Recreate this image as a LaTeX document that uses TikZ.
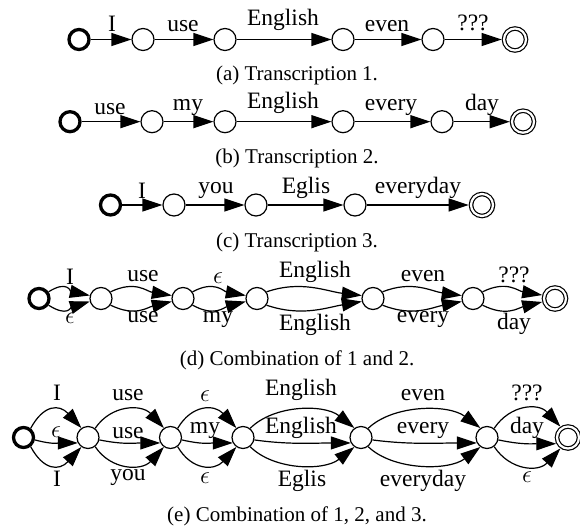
\documentclass[tikz,border=0pt]{standalone}
\usepackage{fontspec}
\setmainfont{Liberation Serif}
\usetikzlibrary{arrows.meta}
\begin{document}
\begin{tikzpicture}[x=1pt,y=1pt,
  st/.style={circle,draw,line width=1.2pt,minimum size=22pt,inner sep=0pt,outer sep=0.6pt},
  ini/.style={circle,draw,line width=3.3pt,minimum size=20pt,inner sep=0pt,outer sep=1.65pt},
  fin/.style={circle,draw,line width=1.2pt,double,double distance=2.2pt,minimum size=22pt,inner sep=0pt,outer sep=2.3pt},
  conn/.style={line width=1.2pt,-{Triangle[length=20pt,width=13pt]}},
  lab/.style={font=\fontsize{23.5}{28}\selectfont,inner sep=0pt,anchor=base},
  eps/.style={font=\fontsize{23.5}{28}\selectfont,inner sep=0pt},
  capt/.style={font=\fontsize{21}{25}\selectfont,inner sep=0pt,anchor=base}]
\useasboundingbox (0,0) rectangle (580,-527);

% ---------- (a)
\node[ini] (a0) at (79,-39.5) {};
\node[st]  (a1) at (143,-39.5) {};
\node[st]  (a2) at (225,-39.5) {};
\node[st]  (a3) at (343,-39.5) {};
\node[st]  (a4) at (433,-39.5) {};
\node[fin] (a5) at (515,-39.5) {};
\foreach \i/\j in {a0/a1,a1/a2,a2/a3,a3/a4,a4/a5} \draw[conn] (\i) -- (\j);
\node[lab] (la1) at (112,-32) {I};
\node[lab] (la2) at (183,-32) {use};
\node[lab] (la3) at (283,-26) {English};
\node[lab] (la4) at (387,-32) {even};
\node[lab] (la5) at (473,-31) {???};
\node[capt] (capa) at (297,-80) {(a) Transcription 1.};

% ---------- (b)
\node[ini] (b0) at (70,-121.7) {};
\node[st]  (b1) at (152,-121.7) {};
\node[st]  (b2) at (225,-121.7) {};
\node[st]  (b3) at (343,-121.7) {};
\node[st]  (b4) at (442,-121.7) {};
\node[fin] (b5) at (523,-121.7) {};
\foreach \i/\j in {b0/b1,b1/b2,b2/b3,b3/b4,b4/b5} \draw[conn] (\i) -- (\j);
\node[lab] (lb1) at (110,-114) {use};
\node[lab] (lb2) at (188,-110) {my};
\node[lab] (lb3) at (283,-108) {English};
\node[lab] (lb4) at (391,-110) {every};
\node[lab] (lb5) at (482,-110) {day};
\node[capt] (capb) at (297,-163) {(b) Transcription 2.};

% ---------- (c)
\node[ini] (c0) at (110.5,-205) {};
\node[st]  (c1) at (174,-205) {};
\node[st]  (c2) at (256,-205) {};
\node[st]  (c3) at (355,-205) {};
\node[fin] (c4) at (482,-205) {};
\foreach \i/\j in {c0/c1,c1/c2,c2/c3,c3/c4} \draw[conn] (\i) -- (\j);
\node[lab] (lc1) at (142,-198) {I};
\node[lab] (lc2) at (216,-193) {you};
\node[lab] (lc3) at (306,-193) {Eglis};
\node[lab] (lc4) at (418,-193) {everyday};
\node[capt] (capc) at (297,-247) {(c) Transcription 3.};

% ---------- (d)
\node[ini] (d0) at (39,-298.5) {};
\node[st]  (d1) at (101,-298.5) {};
\node[st]  (d2) at (183,-298.5) {};
\node[st]  (d3) at (257,-298.5) {};
\node[st]  (d4) at (373,-298.5) {};
\node[st]  (d5) at (473,-298.5) {};
\node[fin] (d6) at (555,-298.5) {};
\foreach \i/\j/\s in {d0/d1/19,d1/d2/25,d2/d3/22,d3/d4/35,d4/d5/30,d5/d6/24}{
  \draw[conn] (\i.35) .. controls +(\s,12) and +(-\s,4) .. (\j.165);
  \draw[conn] (\i.-35) .. controls +(\s,-12) and +(-\s,-6) .. (\j.195);
}
\node[lab] (ld1) at (70,-284) {I};
\node[lab] (ld2) at (143,-281) {use};
\node[eps] (ld3) at (218,-278) {$\epsilon$};
\node[lab] (ld4) at (315,-277) {English};
\node[lab] (ld5) at (423,-281) {even};
\node[lab] (ld6) at (514,-282) {???};
\node[eps] (ld7) at (70,-318) {$\epsilon$};
\node[lab] (ld8) at (143,-322) {use};
\node[lab] (ld9) at (218,-322) {my};
\node[lab] (ld10) at (315,-330) {English};
\node[lab] (ld11) at (423,-322) {every};
\node[lab] (ld12) at (514,-329) {day};
\node[capt] (capd) at (297,-365) {(d) Combination of 1 and 2.};

% ---------- (e)
\node[ini] (e0) at (23.5,-437.5) {};
\node[st]  (e1) at (88,-437.5) {};
\node[st]  (e2) at (170.5,-437.5) {};
\node[st]  (e3) at (243,-437.5) {};
\node[st]  (e4) at (361,-437.5) {};
\node[st]  (e5) at (487,-437.5) {};
\node[fin] (e6) at (568,-437.5) {};
\foreach \i/\j/\s/\t/\m in {e0/e1/13/22/19,e1/e2/16/22/25,e2/e3/14/22/22,e3/e4/24/30/35,e4/e5/25/32/38,e5/e6/16/22/24}{
  \draw[conn] (\i.52) .. controls +(\s,24) and +(-\t,24) .. (\j.125);
  \draw[conn] (\i.-12) .. controls +(\m,-5) and +(-\m,0) .. (\j.208);
  \draw[conn] (\i.-52) .. controls +(\s,-24) and +(-\t,-24) .. (\j.235);
}
\node[lab] (le1) at (57,-400) {I};
\node[lab] (le2) at (128,-400) {use};
\node[eps] (le3) at (205,-396) {$\epsilon$};
\node[lab] (le4) at (301,-395) {English};
\node[lab] (le5) at (423,-400) {even};
\node[lab] (le6) at (527,-400) {???};
\node[eps] (le7) at (56,-432) {$\epsilon$};
\node[lab] (le8) at (128,-438) {use};
\node[lab] (le9) at (205,-433) {my};
\node[lab] (le10) at (301,-433) {English};
\node[lab] (le11) at (423,-433) {every};
\node[lab] (le12) at (527,-433) {day};
\node[lab] (le13) at (57,-486) {I};
\node[lab] (le14) at (128,-480) {you};
\node[eps] (le15) at (205,-478) {$\epsilon$};
\node[lab] (le16) at (302,-486) {Eglis};
\node[lab] (le17) at (423,-486) {everyday};
\node[eps] (le18) at (527,-477) {$\epsilon$};
\node[capt] (cape) at (297,-521) {(e) Combination of 1, 2, and 3.};
\end{tikzpicture}
\end{document}
